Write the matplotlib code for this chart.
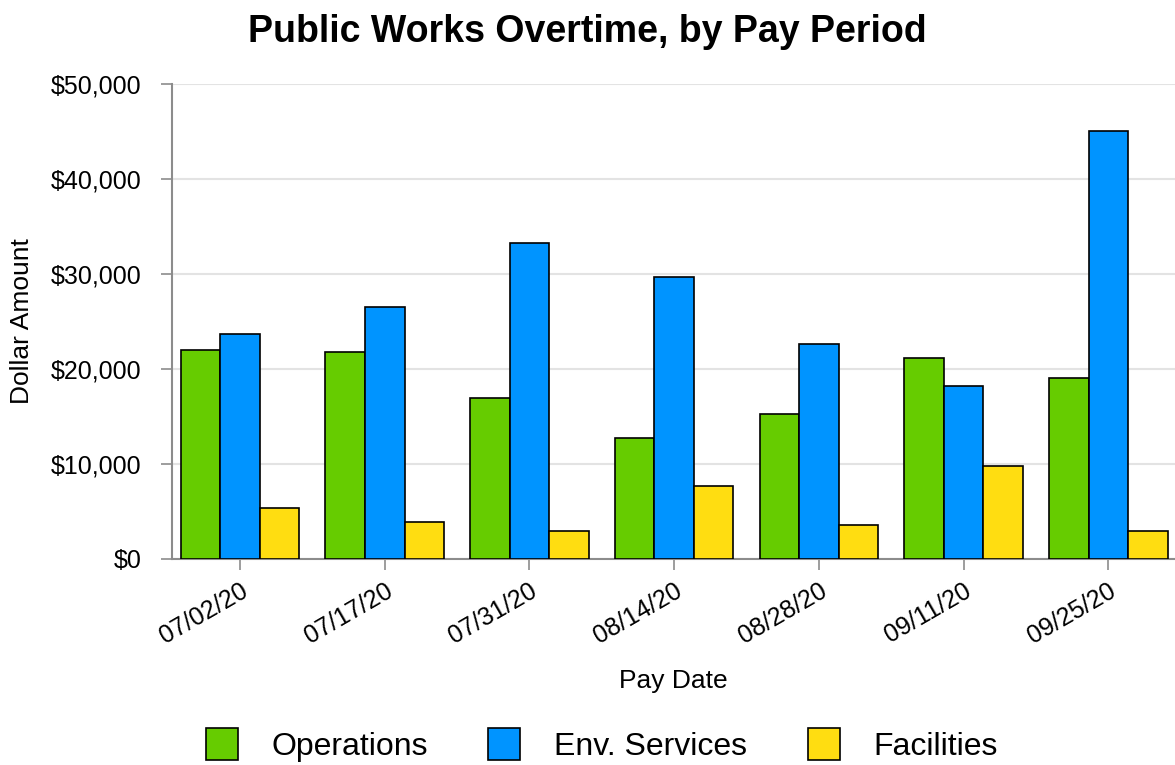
import numpy as np
import matplotlib.pyplot as plt
from matplotlib.ticker import FuncFormatter

plt.rcParams['font.family'] = ['Liberation Sans', 'DejaVu Sans']

# data
pay_dates = ['07/02/20', '07/17/20', '07/31/20', '08/14/20', '08/28/20', '09/11/20', '09/25/20']
operations = [21960, 21750, 16930, 12740, 15260, 21120, 19030]
env_services = [23640, 26570, 33270, 29680, 22590, 18190, 45000]
facilities = [5380, 3910, 2900, 7720, 3530, 9780, 2900]

series = [('Operations', operations, '#66cc00'),
          ('Env. Services', env_services, '#0094ff'),
          ('Facilities', facilities, '#ffdd11')]

fig = plt.figure(figsize=(11.75, 7.65), dpi=100)
ax = fig.add_axes([172/1175, 1 - 559/765, 1 - 172/1175, 475/765])

x = np.arange(len(pay_dates))
w = 0.273
for i, (name, vals, col) in enumerate(series):
    ax.bar(x + (i - 1) * w, vals, width=w, color=col, edgecolor='black', linewidth=1.2, label=name, zorder=3)

ax.set_xlim(-0.47, 6.46)
ax.set_ylim(0, 50000)
ax.set_yticks(np.arange(0, 50001, 10000))
ax.yaxis.set_major_formatter(FuncFormatter(lambda v, p: '${:,.0f}'.format(v)))
ax.set_xticks(x)
ax.set_xticklabels(pay_dates, rotation=30, ha='right', rotation_mode='anchor')
ax.grid(axis='y', color='#e3e3e3', linewidth=1.5, zorder=0)
for s in ['top', 'right']:
    ax.spines[s].set_visible(False)
for s in ['left', 'bottom']:
    ax.spines[s].set_color('#8c8c8c')
    ax.spines[s].set_linewidth(1.5)
ax.tick_params(axis='both', colors='#8c8c8c', labelcolor='black', labelsize=18, length=8, width=1.2)
ax.tick_params(axis='y', pad=14)
ax.tick_params(axis='x', pad=6)
ax.set_xlabel('Pay Date', fontsize=19, labelpad=15)
ax.set_ylabel('Dollar Amount', fontsize=19, labelpad=12)

fig.suptitle('Public Works Overtime, by Pay Period', fontsize=27, fontweight='bold', x=0.5, y=0.982)

fig.legend(loc='center', bbox_to_anchor=(0.512, 1 - 745/765), ncol=3, frameon=False, fontsize=23,
           handlelength=1.0, handleheight=1.15, handletextpad=1.05, columnspacing=1.9)

fig.savefig('out.png', dpi=100)
